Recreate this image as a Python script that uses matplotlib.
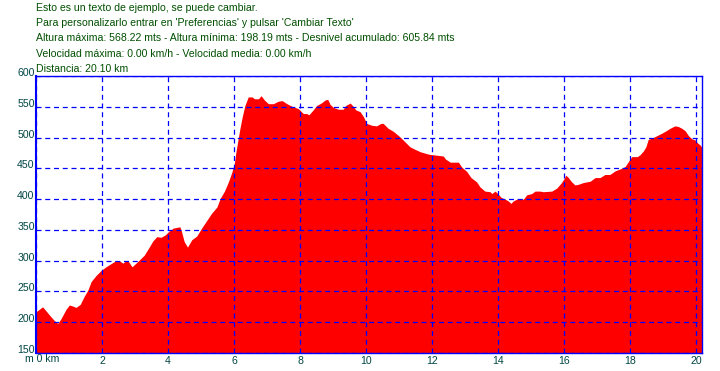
import matplotlib
matplotlib.use('Agg')
import matplotlib.pyplot as plt

# perfil de altura (km, m)
dist = [0.0, 0.2, 0.45, 0.55, 0.66, 0.76, 0.91, 1.01, 1.13, 1.21, 1.34, 1.46, 1.57, 1.67, 1.82, 1.97,
        2.12, 2.27, 2.42, 2.52, 2.63, 2.73, 2.81, 2.91, 3.03, 3.13, 3.28, 3.43, 3.54, 3.66, 3.79, 3.92,
        4.01, 4.16, 4.36, 4.41, 4.49, 4.59, 4.72, 4.87, 5.02, 5.17, 5.32, 5.48, 5.58, 5.71, 5.83, 5.93,
        6.01, 6.06, 6.11, 6.18, 6.25, 6.33, 6.43, 6.55, 6.62, 6.74, 6.82, 6.92, 7.04, 7.19, 7.34, 7.46,
        7.6, 7.75, 7.95, 8.1, 8.2, 8.27, 8.4, 8.5, 8.64, 8.76, 8.84, 8.91, 9.01, 9.16, 9.31, 9.38,
        9.52, 9.59, 9.69, 9.82, 9.92, 10.02, 10.17, 10.32, 10.45, 10.52, 10.67, 10.83, 11.03, 11.18,
        11.33, 11.48, 11.64, 11.89, 12.34, 12.41, 12.55, 12.8, 12.9, 13.05, 13.18, 13.35, 13.45, 13.6,
        13.76, 13.81, 13.91, 13.99, 14.09, 14.21, 14.31, 14.39, 14.46, 14.57, 14.77, 14.87, 15.02,
        15.12, 15.27, 15.37, 15.63, 15.78, 15.91, 16.01, 16.05, 16.13, 16.23, 16.33, 16.43, 16.59,
        16.79, 16.94, 17.09, 17.24, 17.39, 17.55, 17.7, 17.85, 17.95, 18.05, 18.12, 18.22, 18.3,
        18.4, 18.48, 18.55, 18.66, 18.81, 18.96, 19.09, 19.21, 19.36, 19.46, 19.57, 19.67, 19.77,
        19.87, 19.97, 20.05, 20.12, 20.18]
elev = [217, 225, 209, 203, 198, 206, 221, 228, 226, 224, 229, 242, 252, 266, 276, 284,
        290, 295, 300, 300, 296, 300, 298, 290, 296, 301, 309, 322, 332, 339, 338, 342,
        347, 353, 355, 347, 331, 322, 334, 340, 353, 365, 377, 387, 401, 413, 428, 443,
        458, 477, 493, 515, 534, 552, 566, 566, 563, 563, 568, 561, 555, 555, 559, 560,
        555, 551, 547, 539, 539, 537, 545, 552, 556, 561, 562, 554, 549, 546, 546, 552,
        556, 552, 545, 542, 534, 523, 520, 519, 523, 523, 515, 510, 501, 493,
        485, 481, 477, 473, 470, 465, 460, 460, 452, 445, 435, 428, 420, 413,
        412, 409, 413, 409, 403, 400, 397, 393, 397, 400, 400, 407, 409,
        413, 413, 412, 413, 418, 426, 434, 439, 435, 428, 423, 424, 427,
        429, 435, 435, 440, 440, 446, 449, 453, 461, 469, 469, 469, 472,
        478, 485, 497, 499, 503, 507, 511, 515, 519, 518, 515, 511, 503,
        498, 496, 491, 488, 484]

xticks = [0, 2, 4, 6, 8, 10, 12, 14, 16, 18, 20]
xlabels = ['', '2', '4', '6', '8', '10', '12', '14', '16', '18', '20']
yticks = [150, 200, 250, 300, 350, 400, 450, 500, 550, 600]

header = ["Esto es un texto de ejemplo, se puede cambiar.",
          "Para personalizarlo entrar en 'Preferencias' y pulsar 'Cambiar Texto'",
          "Altura máxima: 568.22 mts - Altura mínima: 198.19 mts - Desnivel acumulado: 605.84 mts",
          "Velocidad máxima: 0.00 km/h - Velocidad media: 0.00 km/h",
          "Distancia: 20.10 km"]

plt.rcParams['font.family'] = ['Liberation Sans', 'DejaVu Sans']
txt_col = '#004f00'
tick_col = '#004545'
blue = '#0000ff'
fs = 7.6

fig = plt.figure(figsize=(7.2, 3.71), dpi=100)
ax = fig.add_axes([36/720, 1 - 353/371, 666/720, 277/371])

ax.fill_between(dist, elev, 150, color='#ff0000', lw=0)

ax.set_xlim(0, 20.18)
ax.set_ylim(150, 600)
ax.set_xticks(xticks)
ax.set_xticklabels(xlabels)
ax.set_yticks(yticks)
ax.set_axisbelow(False)
ax.grid(True, color=blue, linestyle=(0, (4, 3)), lw=0.9)
ax.tick_params(length=0, labelsize=fs, labelcolor=tick_col)
ax.tick_params(axis='y', pad=1)
ax.tick_params(axis='x', pad=2)
for lab in ax.get_yticklabels():
    lab.set_va('baseline')
for s in ax.spines.values():
    s.set_color(blue)
    s.set_linewidth(1.0)
ax.spines['left'].set_linewidth(1.5)

fig.text(25/720, 1 - 362/371, 'm 0 km', fontsize=fs, color=tick_col, va='baseline')

for i, line in enumerate(header):
    fig.text(36/720, 1 - (11 + 15.2 * i)/371, line, fontsize=fs, color=txt_col, va='baseline')

fig.savefig('out.png', dpi=100)
